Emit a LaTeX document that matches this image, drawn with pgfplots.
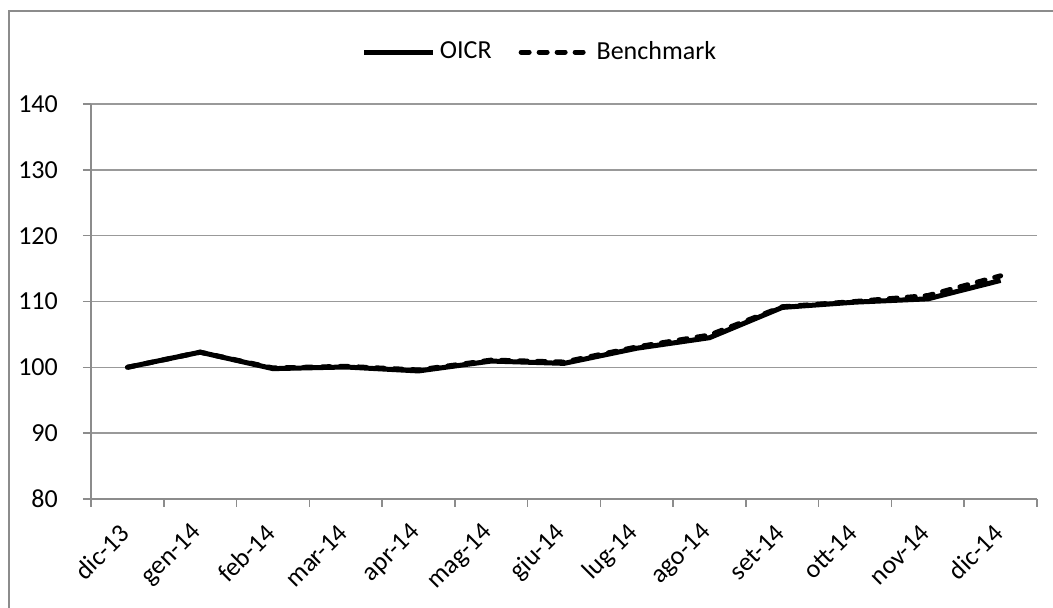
\documentclass[border=0pt]{standalone}
\usepackage{pgfplots}
\pgfplotsset{compat=1.18}
\usepackage{fontspec}
\setmainfont{Carlito}
\newcommand\bigf{\fontsize{26bp}{31bp}\selectfont}
\begin{document}
\bigf
\begin{tikzpicture}[x=1bp,y=1bp]
\useasboundingbox (0,0) rectangle (1053,608);
\draw[black!45, line width=1.5bp] (9,0) -- (9,597) -- (1053,597);
\begin{axis}[
  at={(91bp,109bp)}, anchor=south west,
  scale only axis, width=946bp, height=395bp,
  xmin=-0.5, xmax=12.5, ymin=80, ymax=140,
  ytick={80,90,...,140},
  xtick={-0.5,0.5,...,12.5},
  xticklabels={dic-13,gen-14,feb-14,mar-14,apr-14,mag-14,giu-14,lug-14,ago-14,set-14,ott-14,nov-14,dic-14,{}},
  /pgf/number format/assume math mode=true,
  axis x line*=bottom, axis y line*=left,
  axis line style={draw=black!45, line width=1.5bp, -},
  ymajorgrids, grid style={black!40, line width=1.5bp},
  tick style={black!45, line width=1.5bp},
  tick align=outside, major tick length=8bp,
  tick label style={font=\bigf},
  xticklabel style={inner sep=0pt, anchor=east, xshift=34bp, yshift=-22bp, rotate=45},
  yticklabel style={inner sep=0pt, anchor=east, xshift=-25bp},
  legend columns=2,
  legend style={at={(0.4757,1.1316)}, anchor=center, draw=none, fill=none, font=\bigf,
    /tikz/every even column/.append style={column sep=23bp},
    nodes={inner sep=4bp}},
  legend image code/.code={\draw[#1] (0bp,0bp) -- (69bp,0bp);},
]
\addplot[black, line width=5bp, line join=round] coordinates {
(0,100) (1,102.3) (2,99.8) (3,100.05) (4,99.45) (5,100.95) (6,100.6) (7,102.9) (8,104.5) (9,109.1) (10,109.9) (11,110.4) (12,113.2)};
\addlegendentry{OICR}
\addplot[black, line width=5bp, line cap=round, dash pattern=on 8bp off 10bp] coordinates {
(0,100) (1,102.3) (2,99.9) (3,100.15) (4,99.6) (5,101.1) (6,100.8) (7,103.1) (8,104.9) (9,109.2) (10,110.0) (11,110.9) (12,113.9)};
\addlegendentry{Benchmark}
\end{axis}
\end{tikzpicture}
\end{document}
